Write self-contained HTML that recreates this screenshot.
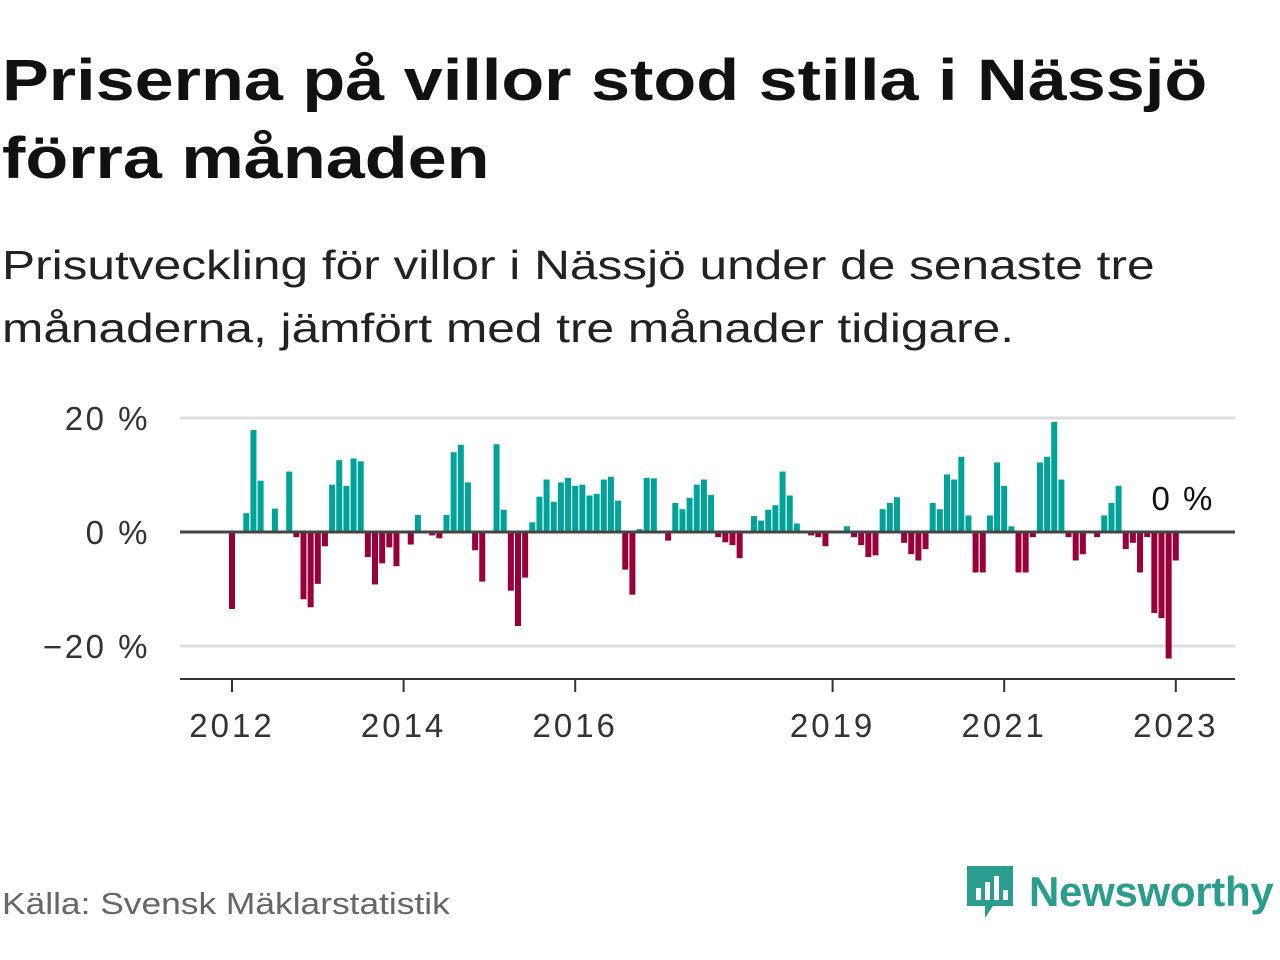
<!DOCTYPE html>
<html><head><meta charset="utf-8">
<style>
body{margin:0;width:1280px;height:960px;background:#fff;font-family:"Liberation Sans",sans-serif;overflow:hidden;position:relative}
h1{position:absolute;left:2px;top:42px;margin:0;font-size:58px;line-height:78px;font-weight:bold;color:#111;transform:scaleX(1.21);transform-origin:0 0;white-space:nowrap}
.sub{position:absolute;left:2px;top:234px;margin:0;font-size:41px;line-height:63px;color:#222;transform:scaleX(1.21);transform-origin:0 0;white-space:nowrap}
.src{position:absolute;left:2px;top:886px;font-size:31px;color:#666;transform:scaleX(1.14);transform-origin:0 0;white-space:nowrap}
.logo{position:absolute;left:965px;top:862px;display:flex;align-items:center}
.logo span{font-size:42px;color:#2a9d8f;font-weight:bold;margin-left:14px;letter-spacing:-0.3px}
</style></head><body>
<h1>Priserna på villor stod stilla i Nässjö<br>förra månaden</h1>
<p class="sub">Prisutveckling för villor i Nässjö under de senaste tre<br>månaderna, jämfört med tre månader tidigare.</p>
<svg id="chart" width="1280" height="960" style="position:absolute;left:0;top:0"></svg>
<div class="src">Källa: Svensk Mäklarstatistik</div>
<div class="logo">
<svg width="50" height="60" viewBox="0 0 50 60"><path d="M2 4h46v40H28l-8 12v-12H2z" fill="#2a9d8f"/><rect x="11" y="26" width="5" height="12" fill="#fff"/><rect x="20" y="20" width="5" height="18" fill="#fff"/><rect x="29" y="14" width="5" height="24" fill="#fff"/><rect x="38" y="28" width="5" height="10" fill="#fff"/></svg>
<span>Newsworthy</span></div>
<script>
const values=[-13.5,0,3.3,17.9,9.0,0,4.1,0,10.6,-0.9,-11.8,-13.2,-9.1,-2.5,8.3,12.6,8.1,12.9,12.4,-4.4,-9.2,-5.5,-2.7,-6.0,0,-2.2,3.0,0,-0.6,-1.1,3.0,14.0,15.3,8.7,-3.2,-8.7,0,15.4,3.9,-10.3,-16.5,-8.0,1.7,6.2,9.2,5.3,8.7,9.5,8.1,8.3,6.4,6.7,9.2,9.7,5.5,-6.6,-11.0,0.5,9.5,9.4,0,-1.5,5.1,4.0,6.0,8.3,9.2,6.5,-0.9,-1.8,-2.3,-4.6,0,2.8,2.0,3.9,4.7,10.6,6.4,1.5,0,-0.6,-0.9,-2.5,0,0,1.0,-0.9,-2.3,-4.4,-4.1,4.0,5.1,6.1,-1.9,-3.9,-5.0,-3.0,5.1,4.0,10.1,9.2,13.2,2.9,-7.1,-7.1,2.9,12.2,8.1,1.0,-7.1,-7.1,-0.9,12.2,13.2,19.3,9.2,-0.9,-5.0,-3.9,0,-0.9,2.9,5.1,8.1,-3.0,-1.9,-7.1,-0.9,-14.2,-15.1,-22.2,-5.0,0];
const yTicks=[20,0,-20];
const yLabels=["20 %","0 %","−20 %"];
const xTickIdx=[0,24,48,84,108,132];
const xLabels=["2012","2014","2016","2019","2021","2023"];
const lastLabel="0 %";
const NS="http://www.w3.org/2000/svg";
const svg=document.getElementById('chart');
const x=i=>232+7.15*i;
const y=v=>532-5.7*v;
function mk(t,a){const e=document.createElementNS(NS,t);for(const k in a)e.setAttribute(k,a[k]);svg.appendChild(e);return e;}
yTicks.forEach((t,k)=>{
 const g=mk('line',{x1:180,x2:1235,y1:y(t),y2:y(t),stroke:t===0?'#444':'#ddd','stroke-width':3});
 
 
 const l=mk('text',{x:150,y:y(t)+12,'text-anchor':'end','font-size':33,fill:'#333','letter-spacing':2.5,'font-family':'Liberation Sans, sans-serif'});
 l.textContent=yLabels[k];
 
 
});
values.forEach((v,i)=>{
 if(v===0)return;
 const r=mk('rect',{x:x(i)-3,width:6,y:Math.min(y(v),y(0)),height:Math.abs(y(v)-y(0)),fill:v>0?'#00a39a':'#99003a'});
 
 
});
const z=mk('line',{x1:180,x2:1235,y1:y(0),y2:y(0),stroke:'#444','stroke-width':3});


const ax=mk('line',{x1:180,x2:1235,y1:679,y2:679,stroke:'#333','stroke-width':2});


xTickIdx.forEach((t,k)=>{
 const tk=mk('line',{x1:x(t),x2:x(t),y1:679,y2:692,stroke:'#333','stroke-width':2});
 
 
 const l=mk('text',{x:x(t),y:737,'text-anchor':'middle','font-size':33,fill:'#333','letter-spacing':3,'font-family':'Liberation Sans, sans-serif'});
 l.textContent=xLabels[k];
 
 
});
const ll=mk('text',{x:x(values.length-1),y:510,'text-anchor':'middle','font-size':33,fill:'#111','letter-spacing':2,'font-family':'Liberation Sans, sans-serif'});
ll.textContent=lastLabel;


</script>
</body></html>
